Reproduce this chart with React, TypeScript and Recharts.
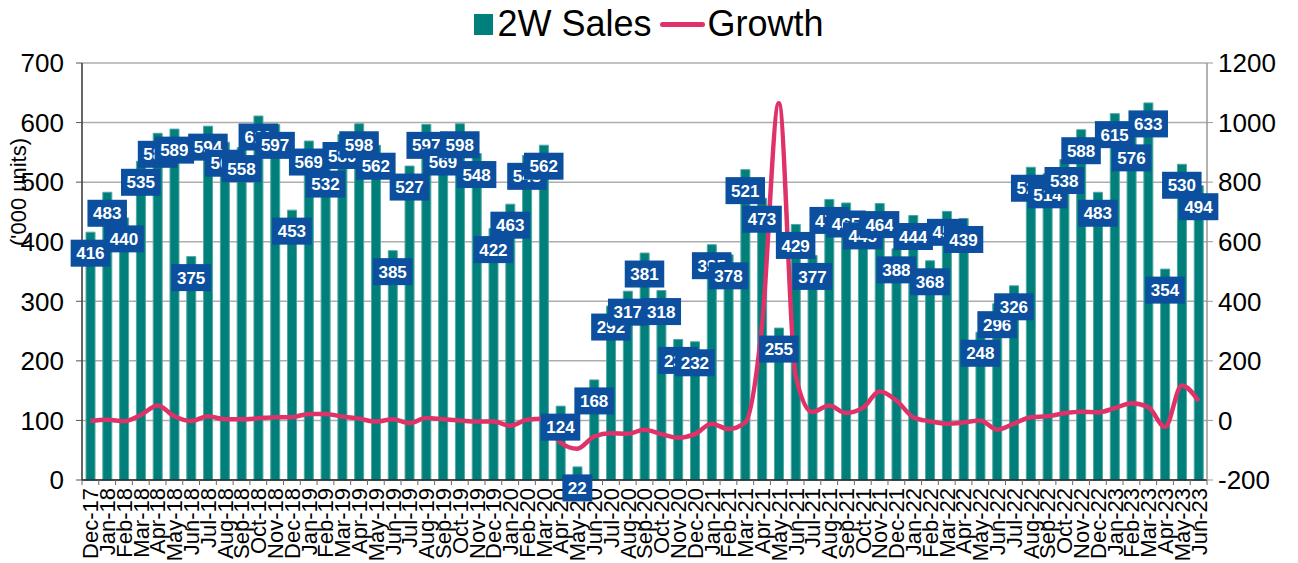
import React from "react";
import {
  Bar,
  CartesianGrid,
  ComposedChart,
  LabelList,
  Legend,
  Line,
  XAxis,
  YAxis,
} from "recharts";

const months = [
  "Dec-17", "Jan-18", "Feb-18", "Mar-18", "Apr-18", "May-18", "Jun-18", "Jul-18", "Aug-18", "Sep-18", "Oct-18", "Nov-18",
  "Dec-18", "Jan-19", "Feb-19", "Mar-19", "Apr-19", "May-19", "Jun-19", "Jul-19", "Aug-19", "Sep-19", "Oct-19", "Nov-19",
  "Dec-19", "Jan-20", "Feb-20", "Mar-20", "Apr-20", "May-20", "Jun-20", "Jul-20", "Aug-20", "Sep-20", "Oct-20", "Nov-20",
  "Dec-20", "Jan-21", "Feb-21", "Mar-21", "Apr-21", "May-21", "Jun-21", "Jul-21", "Aug-21", "Sep-21", "Oct-21", "Nov-21",
  "Dec-21", "Jan-22", "Feb-22", "Mar-22", "Apr-22", "May-22", "Jun-22", "Jul-22", "Aug-22", "Sep-22", "Oct-22", "Nov-22",
  "Dec-22", "Jan-23", "Feb-23", "Mar-23", "Apr-23", "May-23", "Jun-23",
];

// 2W sales, '000 units
const sales = [
  416, 483, 440, 535, 582, 589, 375, 594, 567, 558, 611, 597,
  453, 569, 532, 580, 598, 562, 385, 527, 597, 569, 598, 548,
  422, 463, 545, 562, 124, 22, 168, 292, 317, 381, 318, 236,
  232, 395, 378, 521, 473, 255, 429, 377, 471, 465, 445, 464,
  388, 444, 368, 451, 439, 248, 296, 326, 525, 514, 538, 588,
  483, 615, 576, 633, 354, 530, 494,
];

// growth %, right axis
const growth = [
  -2, 2, -3, 18, 50, 14, -2, 14, 4, 4, 7, 11,
  11, 22, 22, 13, 6, -4, 4, -9, 8, 4, 0, -4,
  -4, -18, 2, 6, -75, -95, -54, -43, -45, -31, -46, -58,
  -46, -11, -29, -7, 320, 1065, 150, 28, 50, 25, 42, 97,
  67, 11, -3, -11, -7, 0, -31, -11, 11, 14, 24, 29,
  27, 41, 58, 45, -22, 117, 65,
];

const leftTicks = [0, 100, 200, 300, 400, 500, 600, 700];
const rightTicks = [-200, 0, 200, 400, 600, 800, 1000, 1200];

const data = months.map((m, i) => ({ month: m, sales: sales[i], growth: growth[i] }));

const FONT = "'Liberation Sans', Arial, sans-serif";
const TEAL = "#017f7b";
const RED = "#df3268";
const BLUE = "#0b4f9e";

function SalesLabel(props: any) {
  const { x, y, value } = props;
  if (x == null || y == null) return null;
  const w = String(value).length * 9.5 + 11;
  const h = 27;
  const cy = y + 21;
  return (
    <g>
      <rect x={x - w / 2} y={cy - h / 2} width={w} height={h} fill={BLUE} />
      <text
        x={x}
        y={cy}
        dy="0.36em"
        textAnchor="middle"
        fill="#fff"
        fontSize={17}
        fontWeight="bold"
        fontFamily={FONT}
      >
        {value}
      </text>
    </g>
  );
}

function MonthTick(props: any) {
  const { x, y, payload, index, visibleTicksCount } = props;
  const half = payload?.offset || 8.4;
  return (
    <g>
      <line x1={x - half} x2={x - half} y1={y - 8} y2={y - 3} stroke="#666" />
      {index === visibleTicksCount - 1 && (
        <line x1={x + half} x2={x + half} y1={y - 8} y2={y - 3} stroke="#666" />
      )}
      <text
        transform={`translate(${x},${y}) rotate(-90)`}
        textAnchor="end"
        dy="0.36em"
        fontSize={22}
        fontFamily={FONT}
        fill="#000"
      >
        {payload.value}
      </text>
    </g>
  );
}

function UnitsLabel(props: any) {
  const { viewBox } = props;
  const x = (viewBox?.x ?? 0) + 18;
  const y = (viewBox?.y ?? 63) + 129;
  return (
    <text
      transform={`translate(${x},${y}) rotate(-90)`}
      textAnchor="middle"
      dy="0.36em"
      fontSize={22}
      fontFamily={FONT}
      fill="#000"
    >
      ('000 units)
    </text>
  );
}

function ChartLegend() {
  return (
    <div
      style={{
        display: "flex",
        justifyContent: "center",
        alignItems: "center",
        fontFamily: FONT,
        fontSize: 36,
        color: "#000",
        lineHeight: "44px",
      }}
    >
      <span style={{ width: 19, height: 21, background: TEAL, marginRight: 4, display: "inline-block" }} />
      <span>2W Sales</span>
      <span
        style={{
          width: 45,
          height: 5,
          background: RED,
          borderRadius: 3,
          margin: "0 3px 0 8px",
          display: "inline-block",
        }}
      />
      <span>Growth</span>
    </div>
  );
}

export default function App() {
  return (
    <div style={{ width: 1298, height: 563 }}>
      <style>{"body{margin:0}"}</style>
      <ComposedChart
        width={1298}
        height={563}
        data={data}
        margin={{ top: 63, right: 0, bottom: 0, left: 0 }}
        barCategoryGap="24%"
      >
        <CartesianGrid yAxisId="left" vertical={false} stroke="#adadad" strokeWidth={1.5} />
        <XAxis
          dataKey="month"
          interval={0}
          height={83}
          tickSize={6}
          tickMargin={2}
          tickLine={false}
          tick={<MonthTick />}
          axisLine={{ stroke: "#222", strokeWidth: 1.5 }}
        />
        <YAxis
          yAxisId="left"
          width={82}
          domain={[0, 700]}
          ticks={leftTicks}
          interval={0}
          tickSize={6}
          tickMargin={12}
          tick={{ fontSize: 26, fontFamily: FONT, fill: "#000" }}
          tickLine={{ stroke: "#555" }}
          axisLine={{ stroke: "#333", strokeWidth: 1.5 }}
          label={<UnitsLabel />}
        />
        <YAxis
          yAxisId="right"
          orientation="right"
          width={91}
          domain={[-200, 1200]}
          ticks={rightTicks}
          interval={0}
          tickSize={6}
          tickMargin={5}
          tick={{ fontSize: 26, fontFamily: FONT, fill: "#000", textAnchor: "start" }}
          tickLine={{ stroke: "#999" }}
          axisLine={{ stroke: "#999", strokeWidth: 1.5 }}
        />
        <Legend
          verticalAlign="middle"
          align="center"
          layout="horizontal"
          content={<ChartLegend />}
          wrapperStyle={{ top: 2, left: 0, width: 1298 }}
        />
        <Bar
          yAxisId="left"
          dataKey="sales"
          name="2W Sales"
          fill={TEAL}
          stroke="#4fa8a3"
          strokeWidth={1}
          isAnimationActive={false}
        />
        <Line
          yAxisId="right"
          dataKey="growth"
          name="Growth"
          type="monotone"
          stroke={RED}
          strokeWidth={4.5}
          dot={false}
          activeDot={false}
          isAnimationActive={false}
        />
        <Line
          yAxisId="left"
          dataKey="sales"
          stroke="none"
          dot={false}
          activeDot={false}
          legendType="none"
          isAnimationActive={false}
        >
          <LabelList dataKey="sales" content={<SalesLabel />} />
        </Line>
      </ComposedChart>
    </div>
  );
}
